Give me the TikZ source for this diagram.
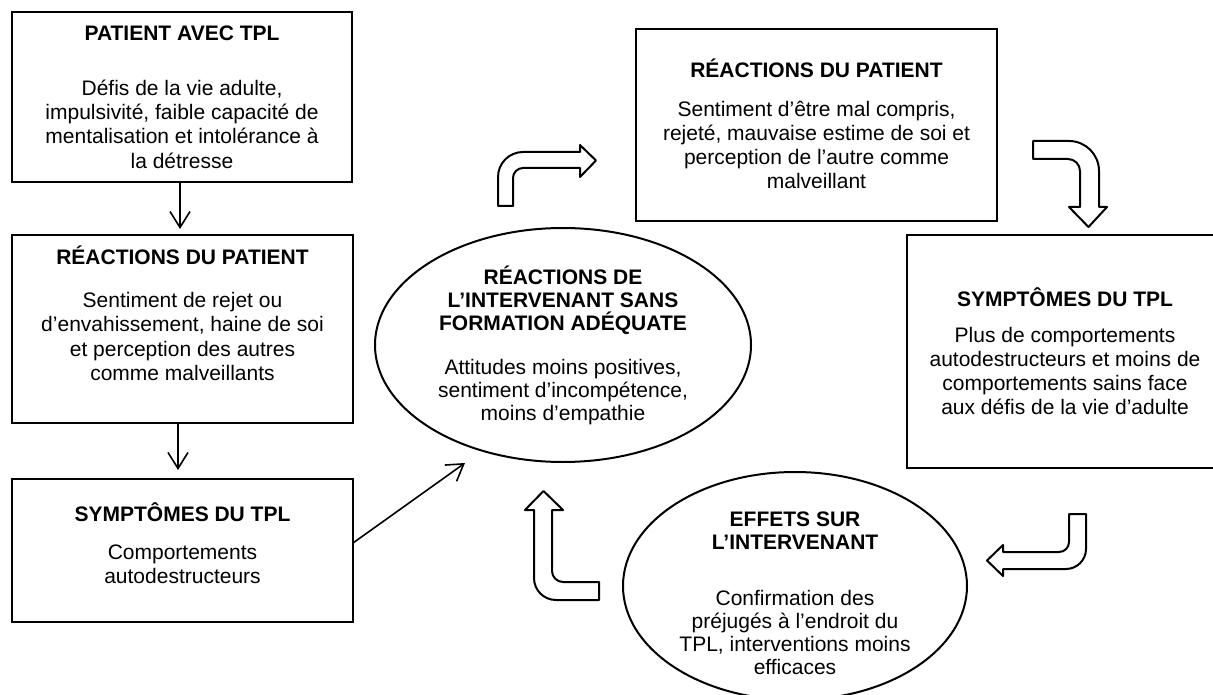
\documentclass[tikz,border=0pt]{standalone}
\usepackage{fontspec}
\setmainfont{Liberation Sans}
\usetikzlibrary{shapes.geometric,arrows.meta}
\begin{document}
\begin{tikzpicture}[x=1pt,y=-1pt,
  boxshape/.style={draw,line width=2.2pt,inner sep=0pt,outer sep=0pt,rectangle},
  ellshape/.style={draw,line width=2pt,ellipse,inner sep=0pt,outer sep=0pt},
  headtxt/.style={font=\fontsize{21}{23}\selectfont\bfseries,align=center,inner sep=0pt},
  bodytxt/.style={font=\fontsize{21}{24.3}\selectfont,align=center,inner sep=0pt},
  ebodytxt/.style={font=\fontsize{21}{23}\selectfont,align=center,inner sep=0pt},
  thinarrow/.style={line width=1.6pt,-{Straight Barb[length=16pt,width=20pt]}},
  blockarrow/.style={draw,line width=2pt,line join=round,fill=white}]
\useasboundingbox (0,0) rectangle (1213,695);
\fill[white] (0,0) rectangle (1213,695);

% left column
\node[boxshape,minimum width=340pt,minimum height=170pt] (b1) at (182,97) {};
\node[headtxt] (b1h) at (182,33) {PATIENT AVEC TPL};
\node[bodytxt] (b1t) at (182,124) {Défis de la vie adulte,\\impulsivité, faible capacité de\\mentalisation et intolérance à\\la détresse};

\node[boxshape,minimum width=341pt,minimum height=188pt] (b2) at (182.5,329) {};
\node[headtxt] (b2h) at (182.5,255) {RÉACTIONS DU PATIENT};
\node[bodytxt] (b2t) at (182.5,336.5) {Sentiment de rejet ou\\d’envahissement, haine de soi\\et perception des autres\\comme malveillants};

\node[boxshape,minimum width=341pt,minimum height=143pt] (b3) at (182.5,550.5) {};
\node[headtxt] (b3h) at (182.5,512) {SYMPTÔMES DU TPL};
\node[bodytxt] (b3t) at (182.5,564) {Comportements\\autodestructeurs};

% right side
\node[boxshape,minimum width=361pt,minimum height=192pt] (b4) at (816.5,125) {};
\node[headtxt] (b4h) at (816.5,68) {RÉACTIONS DU PATIENT};
\node[bodytxt] (b4t) at (816.5,145) {Sentiment d’être mal compris,\\rejeté, mauvaise estime de soi et\\perception de l’autre comme\\malveillant};

\node[boxshape,minimum width=316pt,minimum height=233pt] (b5) at (1065,351.5) {};
\node[headtxt] (b5h) at (1065,297) {SYMPTÔMES DU TPL};
\node[bodytxt] (b5t) at (1065,371) {Plus de comportements\\autodestructeurs et moins de\\comportements sains face\\aux défis de la vie d’adulte};

% ellipses
\node[ellshape,minimum width=376pt,minimum height=234pt] (e1) at (563,345) {};
\node[headtxt] (e1h) at (563,300.5) {RÉACTIONS DE\\L’INTERVENANT SANS\\FORMATION ADÉQUATE};
\node[ebodytxt] (e1t) at (563,392.5) {Attitudes moins positives,\\sentiment d’incompétence,\\moins d’empathie};

\node[ellshape,minimum width=344pt,minimum height=228pt] (e2) at (795,586) {};
\node[headtxt] (e2h) at (795,531) {EFFETS SUR\\L’INTERVENANT};
\node[ebodytxt] (e2t) at (795,632) {Confirmation des\\préjugés à l’endroit du\\TPL, interventions moins\\efficaces};

% thin arrows
\draw[thinarrow] ([xshift=-2pt]b1.south) -- ([xshift=-2.5pt,yshift=6pt]b2.north);
\draw[thinarrow] ([xshift=-4.5pt]b2.south) -- ([xshift=-4.5pt,yshift=9pt]b3.north);
\coordinate (dtip) at (465,463);
\draw[thinarrow] ([yshift=7.5pt]b3.east) -- (dtip);

% block arrows
\draw[blockarrow] (498,206) -- (498,177) .. controls (498,163.2) and (509.2,152) .. (523,152)
  -- (580,152) -- (580,145) -- (596,160.5) -- (580,177) -- (580,168) -- (523,168)
  .. controls (517.5,168) and (513,172.5) .. (513,178) -- (513,206) -- cycle;

\draw[blockarrow] (1033,141) -- (1069,141) .. controls (1085.6,141) and (1099,154.4) .. (1099,171)
  -- (1099,207) -- (1107,207) -- (1088.5,227) -- (1069,207) -- (1080,207) -- (1080,171)
  .. controls (1080,164.4) and (1074.6,159) .. (1068,159) -- (1033,159) -- cycle;

\draw[blockarrow] (1069,514) -- (1086,514) -- (1086,549) .. controls (1086,560) and (1077,569) .. (1066,569)
  -- (1003,569) -- (1003,576) -- (987,560.5) -- (1003,545) -- (1003,552) -- (1059,552)
  .. controls (1064.5,552) and (1069,547.5) .. (1069,542) -- cycle;

\draw[blockarrow] (599,582) -- (563,582) .. controls (557,582) and (552,577) .. (552,571)
  -- (552,510) -- (563,510) -- (543.5,491) -- (525,510) -- (534,510) -- (534,578)
  .. controls (534,590.2) and (543.8,600) .. (556,600) -- (599,600) -- cycle;
\end{tikzpicture}
\end{document}
